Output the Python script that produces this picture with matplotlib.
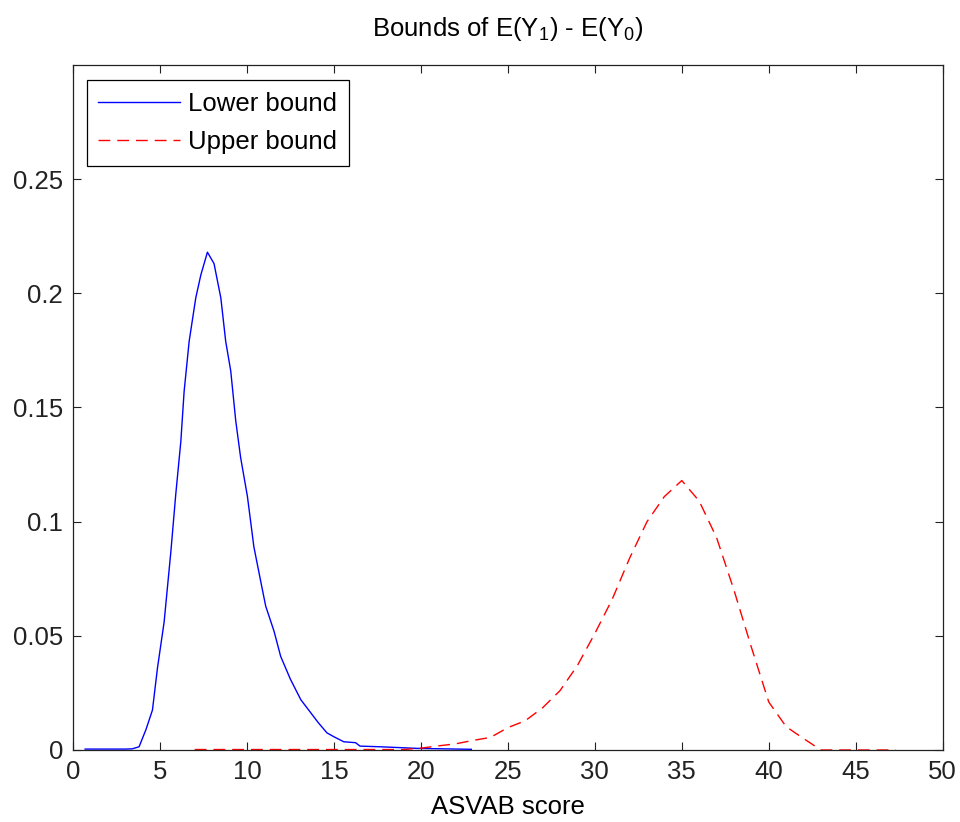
import matplotlib
matplotlib.use("Agg")
import matplotlib.pyplot as plt

# lower bound curve
lower_x = [0.7, 1, 2, 3, 3.4, 3.8, 4.2, 4.57, 4.86, 5.24, 5.63, 5.91, 6.2, 6.39,
           6.68, 7.06, 7.35, 7.73, 8.11, 8.5, 8.78, 9.07, 9.36, 9.64, 10.03, 10.4,
           10.79, 11.08, 11.56, 11.94, 12.5, 13.1, 13.5, 14.1, 14.6, 15.0, 15.57,
           16.25, 16.5, 17.7, 19.8, 22.9]
lower_y = [0.0004, 0.0004, 0.0004, 0.0004, 0.0005, 0.0014, 0.009, 0.0175, 0.036,
           0.056, 0.087, 0.112, 0.135, 0.157, 0.179, 0.198, 0.208, 0.218, 0.213,
           0.198, 0.179, 0.166, 0.144, 0.128, 0.111, 0.089, 0.074, 0.063, 0.052,
           0.041, 0.031, 0.022, 0.018, 0.012, 0.0075, 0.0058, 0.0036, 0.0032,
           0.0017, 0.0014, 0.0007, 0.0003]

# upper bound curve
upper_x = [7, 8, 9, 10, 11, 12, 13, 14, 15, 16, 17, 18, 19, 20, 21, 22, 23, 24,
           25, 26, 27, 28, 29, 30, 31, 32, 33, 34, 35, 36, 37, 38, 39, 40, 41, 42,
           43, 44, 45, 46, 47.3]
upper_y = [0.0002, 0.0002, 0.0002, 0.0002, 0.0002, 0.0002, 0.0002, 0.0002, 0.0002,
           0.0002, 0.0002, 0.0002, 0.0002, 0.0008, 0.0018, 0.0027, 0.0042, 0.0055,
           0.0098, 0.0128, 0.0185, 0.026, 0.037, 0.051, 0.066, 0.084, 0.100, 0.111,
           0.118, 0.109, 0.093, 0.070, 0.045, 0.021, 0.0102, 0.005, 0.0, 0.0, 0.0,
           0.0, 0.0]

x_ticks = [0, 5, 10, 15, 20, 25, 30, 35, 40, 45, 50]
y_ticks = [0, 0.05, 0.1, 0.15, 0.2, 0.25]
y_tick_labels = ["0", "0.05", "0.1", "0.15", "0.2", "0.25"]

plt.rcParams["font.family"] = ["Liberation Sans", "DejaVu Sans"]
plt.rcParams["mathtext.fontset"] = "custom"
plt.rcParams["mathtext.rm"] = "Liberation Sans"
plt.rcParams["mathtext.it"] = "Liberation Sans"
plt.rcParams["lines.scale_dashes"] = False

fs = 18.5

fig = plt.figure(figsize=(9.6, 8.22), dpi=100)
ax = fig.add_axes([0.076, 0.0876, 0.906, 0.8334])

ax.plot(lower_x, lower_y, color="#0000ff", lw=1.0, label="Lower bound")
ax.plot(upper_x, upper_y, color="#ff0000", lw=1.0, dashes=(8.5, 5),
        label="Upper bound")

ax.set_xlim(0, 50)
ax.set_ylim(0, 0.3)
ax.set_xticks(x_ticks)
ax.set_yticks(y_ticks)
ax.set_yticklabels(y_tick_labels)
ax.tick_params(direction="in", length=6, width=0.8, top=True, right=True,
               labelsize=fs, pad=7, colors="#222222")
for s in ax.spines.values():
    s.set_linewidth(0.9)
    s.set_color("#222222")

ax.set_xlabel("ASVAB score", fontsize=fs, labelpad=8)
ax.set_title("Bounds of E(Y$_1$) - E(Y$_0$)", fontsize=fs, pad=21)

leg = ax.legend(loc="upper left", bbox_to_anchor=(0.0157, 0.978),
                borderaxespad=0, fontsize=fs, handlelength=3.2,
                handletextpad=0.3, labelspacing=0.56, borderpad=0.45,
                fancybox=False, framealpha=1)
leg.get_frame().set_edgecolor("black")
leg.get_frame().set_linewidth(0.9)

plt.savefig("out.png", dpi=100)
plt.close(fig)
